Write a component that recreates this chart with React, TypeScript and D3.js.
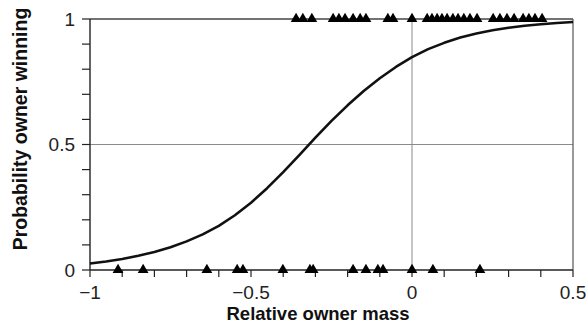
import React from "react";
import * as d3 from "d3";

// Fitted probability curve (relative owner mass -> probability owner wins)
const curveX = [-1.0, -0.95, -0.9, -0.85, -0.8, -0.75, -0.7, -0.65, -0.6, -0.55, -0.5, -0.45, -0.4, -0.35, -0.3, -0.25, -0.2, -0.15, -0.1, -0.05, 0.0, 0.05, 0.1, 0.15, 0.2, 0.25, 0.3, 0.35, 0.4, 0.45, 0.5];
const curveP = [0.026, 0.034, 0.044, 0.057, 0.072, 0.091, 0.114, 0.142, 0.176, 0.218, 0.268, 0.326, 0.39, 0.458, 0.527, 0.594, 0.656, 0.713, 0.764, 0.809, 0.848, 0.88, 0.905, 0.926, 0.942, 0.955, 0.965, 0.973, 0.979, 0.984, 0.988];

// Contests won by the owner (outcome = 1)
const wins = [-0.36, -0.339, -0.311, -0.245, -0.227, -0.208, -0.183, -0.161, -0.143, -0.075, -0.059, 0.0, 0.047, 0.062, 0.078, 0.093, 0.109, 0.127, 0.143, 0.161, 0.18, 0.202, 0.252, 0.273, 0.295, 0.317, 0.345, 0.363, 0.382, 0.404];

// Contests lost by the owner (outcome = 0)
const losses = [-0.913, -0.835, -0.637, -0.543, -0.525, -0.401, -0.317, -0.307, -0.183, -0.143, -0.106, -0.09, 0.0, 0.065, 0.211];

const xTickLabels = [-1, -0.5, 0, 0.5];
const yTickLabels = [0, 0.5, 1];

const W = 587;
const H = 335;
const margin = { left: 90, right: 14, top: 19, bottom: 65 };

export default function App() {
  const x = d3.scaleLinear().domain([-1, 0.5]).range([margin.left, W - margin.right]);
  const y = d3.scaleLinear().domain([0, 1]).range([H - margin.bottom, margin.top]);

  const line = d3
    .line<number>()
    .x((_, i) => x(curveX[i]))
    .y((d) => y(d));

  const minorX = d3.range(-10, 6).map((k) => k / 10);
  const minorY = d3.range(0, 11).map((k) => k / 10);

  const tri = d3.symbol().type(d3.symbolTriangle).size(50)() as string;
  const fmt = (v: number) => (v < 0 ? "\u2212" + Math.abs(v) : String(v));

  const font = "'Liberation Sans', Arial, sans-serif";
  const x0 = x(-1), x1 = x(0.5), yTop = y(1), yBot = y(0);

  return (
    <svg width={W} height={H} style={{ position: "absolute", left: 0, top: 0, background: "#fff" }}>
      {/* reference lines */}
      <line x1={x0} x2={x1} y1={y(0.5)} y2={y(0.5)} stroke="#8a8a8a" strokeWidth={1} />
      <line x1={x(0)} x2={x(0)} y1={yTop} y2={yBot} stroke="#8a8a8a" strokeWidth={1} />
      {/* frame */}
      <line x1={x0} x2={x1} y1={yTop} y2={yTop} stroke="#444" strokeWidth={1.6} />
      <line x1={x1} x2={x1} y1={yTop} y2={yBot} stroke="#555" strokeWidth={1.2} />
      {/* axes */}
      <line x1={x0} x2={x1} y1={yBot} y2={yBot} stroke="#222" strokeWidth={1.4} />
      <line x1={x0} x2={x0} y1={yTop} y2={yBot} stroke="#222" strokeWidth={1.4} />
      {minorX.map((v) => (
        <line key={"xt" + v} x1={x(v)} x2={x(v)} y1={yBot} y2={yBot + 7} stroke="#222" strokeWidth={1.2} />
      ))}
      {minorY.map((v) => (
        <line key={"yt" + v} x1={x0 - 8} x2={x0} y1={y(v)} y2={y(v)} stroke="#222" strokeWidth={1.2} />
      ))}
      {xTickLabels.map((v) => (
        <text key={"xl" + v} x={x(v)} y={yBot + 29} textAnchor="middle" fontFamily={font} fontSize={19} fill="#222">
          {fmt(v)}
        </text>
      ))}
      {yTickLabels.map((v) => (
        <text key={"yl" + v} x={x0 - 15} y={y(v)} dy="0.35em" textAnchor="end" fontFamily={font} fontSize={19} fill="#222">
          {fmt(v)}
        </text>
      ))}
      {/* fitted curve */}
      <path d={line(curveP) ?? ""} fill="none" stroke="#111" strokeWidth={2.6} strokeLinejoin="round" />
      {/* observations */}
      {wins.map((v, i) => (
        <path key={"w" + i} d={tri} transform={`translate(${x(v)},${yTop})`} fill="#000" />
      ))}
      {losses.map((v, i) => (
        <path key={"l" + i} d={tri} transform={`translate(${x(v)},${yBot})`} fill="#000" />
      ))}
      {/* axis titles */}
      <text x={318} y={320} textAnchor="middle" fontFamily={font} fontSize={18.5} fontWeight="bold" fill="#111">
        Relative owner mass
      </text>
      <text transform={`translate(27,129) rotate(-90)`} textAnchor="middle" fontFamily={font} fontSize={19.5} fontWeight="bold" fill="#111">
        Probability owner winning
      </text>
    </svg>
  );
}
